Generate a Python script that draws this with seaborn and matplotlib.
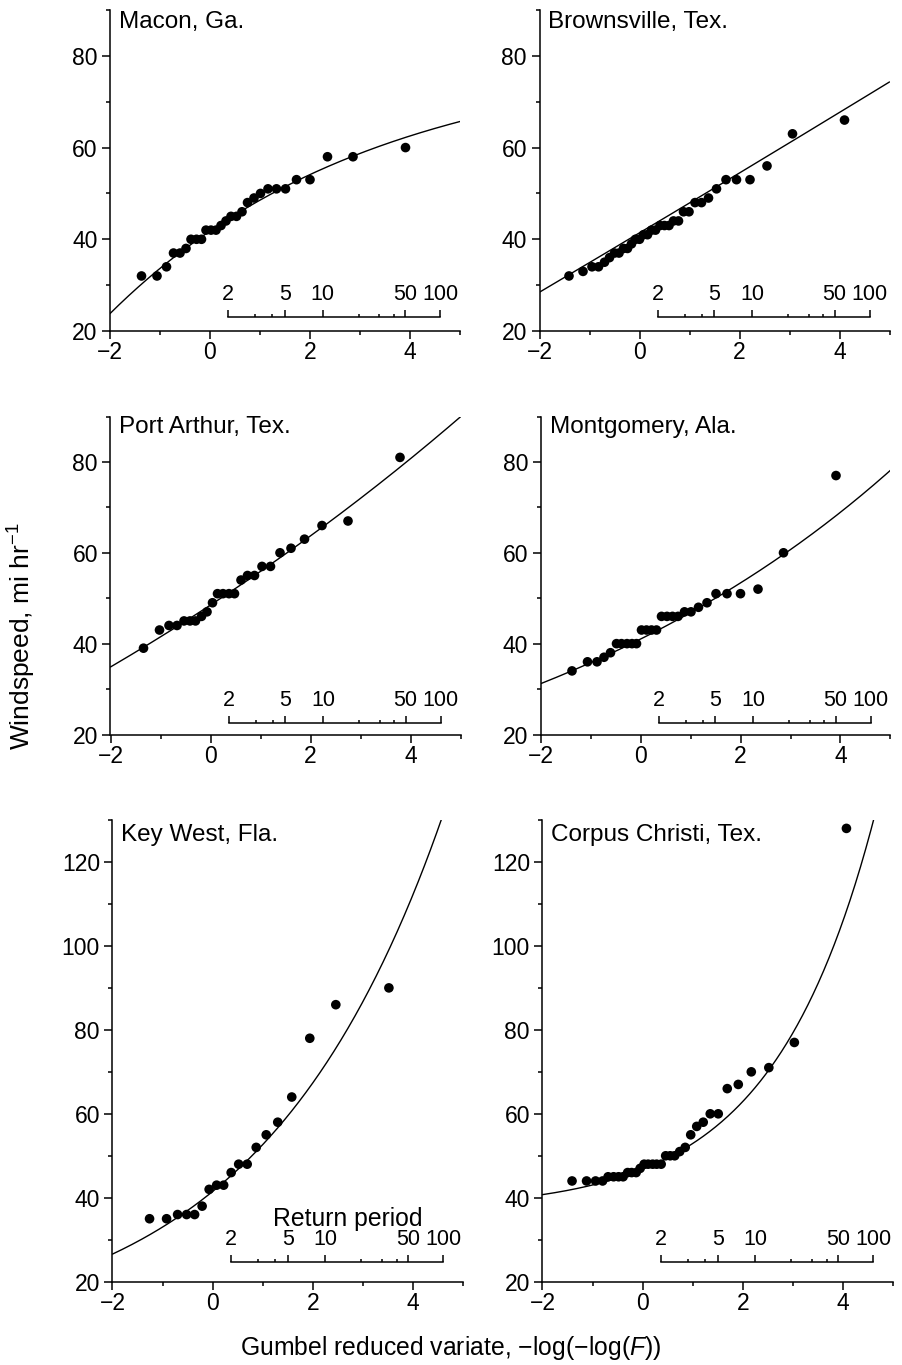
import numpy as np
import pandas as pd
import matplotlib
matplotlib.use("Agg")
import matplotlib.pyplot as plt
import seaborn as sns
from matplotlib.ticker import MultipleLocator
import matplotlib.transforms as mtransforms

# ---------------- data ----------------
sites = ["Macon, Ga.", "Brownsville, Tex.", "Port Arthur, Tex.",
         "Montgomery, Ala.", "Key West, Fla.", "Corpus Christi, Tex."]

macon_x = [-1.37, -1.06, -0.87, -0.73, -0.60, -0.48, -0.38, -0.27, -0.17, -0.08,
           0.02, 0.12, 0.22, 0.32, 0.42, 0.53, 0.64, 0.75, 0.88, 1.01,
           1.16, 1.33, 1.51, 1.73, 2.00, 2.35, 2.86, 3.91]
macon_y = [32, 32, 34, 37, 37, 38, 40, 40, 40, 42, 42, 42, 43, 44, 45, 45, 46, 48,
           49, 50, 51, 51, 51, 53, 53, 58, 58, 60]

brownsville_x = [-1.41, -1.13, -0.95, -0.82, -0.70, -0.60, -0.50, -0.41, -0.32, -0.24,
                 -0.16, -0.08, 0.00, 0.08, 0.16, 0.24, 0.32, 0.41, 0.50, 0.59,
                 0.68, 0.78, 0.88, 0.99, 1.11, 1.24, 1.38, 1.54, 1.73, 1.94,
                 2.21, 2.55, 3.06, 4.10]
brownsville_y = [32, 33, 34, 34, 35, 36, 37, 37, 38, 38, 39, 40, 40, 41, 41, 42, 42,
                 43, 43, 43, 44, 44, 46, 46, 48, 48, 49, 51, 53, 53, 53, 56, 63, 66]

portarthur_x = [-1.34, -1.02, -0.83, -0.67, -0.53, -0.41, -0.30, -0.18, -0.07, 0.04,
                0.14, 0.25, 0.37, 0.48, 0.61, 0.74, 0.88, 1.03, 1.20, 1.39,
                1.61, 1.88, 2.23, 2.75, 3.79]
portarthur_y = [39, 43, 44, 44, 45, 45, 45, 46, 47, 49, 51, 51, 51, 51, 54, 55, 55,
                57, 57, 60, 61, 63, 66, 67, 81]

montgomery_x = [-1.37, -1.06, -0.87, -0.73, -0.60, -0.48, -0.38, -0.27, -0.17, -0.08,
                0.02, 0.12, 0.22, 0.32, 0.42, 0.53, 0.64, 0.75, 0.88, 1.01,
                1.16, 1.33, 1.51, 1.73, 2.00, 2.35, 2.86, 3.91]
montgomery_y = [34, 36, 36, 37, 38, 40, 40, 40, 40, 40, 43, 43, 43, 43, 46, 46, 46,
                46, 47, 47, 48, 49, 51, 51, 51, 52, 60, 77]

keywest_x = [-1.26, -0.92, -0.70, -0.52, -0.36, -0.21, -0.07, 0.08, 0.22, 0.37,
             0.52, 0.69, 0.87, 1.07, 1.30, 1.58, 1.94, 2.46, 3.52]
keywest_y = [35, 35, 36, 36, 36, 38, 42, 43, 43, 46, 48, 48, 52, 55, 58, 64, 78, 86, 90]

corpus_x = [-1.41, -1.12, -0.94, -0.80, -0.69, -0.58, -0.48, -0.39, -0.30, -0.22,
            -0.13, -0.05, 0.03, 0.11, 0.20, 0.28, 0.37, 0.46, 0.55, 0.64,
            0.74, 0.85, 0.96, 1.08, 1.21, 1.35, 1.51, 1.69, 1.91, 2.17,
            2.52, 3.03, 4.07]
corpus_y = [44, 44, 44, 44, 45, 45, 45, 45, 46, 46, 46, 47, 48, 48, 48, 48, 48, 50,
            50, 50, 51, 52, 55, 57, 58, 60, 60, 66, 67, 70, 71, 77, 128]

# fitted GEV curves: location, scale, shape
macon_fit = [41.8, 7.4, -0.19]
brownsville_fit = [41.4, 6.5, 0.005]
portarthur_fit = [48.5, 7.2, 0.055]
montgomery_fit = [41.0, 5.5, 0.115]
keywest_fit = [41.5, 9.7, 0.275]
corpus_fit = [46.8, 4.75, 0.49]

return_periods = [2, 3, 4, 5, 10, 20, 30, 40, 50, 100]
return_labels = ["2", "", "", "5", "10", "", "", "", "50", "100"]

# ---------------- style ----------------
sns.set_theme(style="ticks")
plt.rcParams["font.family"] = ["Liberation Sans", "DejaVu Sans"]
plt.rcParams["mathtext.fontset"] = "custom"
plt.rcParams["mathtext.rm"] = "Liberation Sans"
plt.rcParams["mathtext.it"] = "Liberation Sans:italic"
plt.rcParams["mathtext.bf"] = "Liberation Sans:bold"
plt.rcParams["axes.unicode_minus"] = True

panels = [
    (sites[0], macon_x, macon_y, macon_fit),
    (sites[1], brownsville_x, brownsville_y, brownsville_fit),
    (sites[2], portarthur_x, portarthur_y, portarthur_fit),
    (sites[3], montgomery_x, montgomery_y, montgomery_fit),
    (sites[4], keywest_x, keywest_y, keywest_fit),
    (sites[5], corpus_x, corpus_y, corpus_fit),
]

W, H = 903, 1365
fig = plt.figure(figsize=(W / 100, H / 100), dpi=100)
fig.patch.set_facecolor("white")

# axes boxes in pixels: (left, top, right, bottom)
boxes = [
    (110.0, 10.0, 460.0, 331.0), (539.5, 10.0, 889.5, 331.0),
    (110.5, 416.5, 460.5, 734.5), (540.5, 416.5, 890.5, 734.5),
    (112.5, 820.0, 463.0, 1281.7), (542.5, 820.0, 893.0, 1281.7),
]
ret_frac = [0.043, 0.043, 0.037, 0.037, 0.043, 0.043]
title_off = [18, 18, 16, 16, 21, 21]
ytop = [90, 90, 90, 90, 130, 130]

ret_pos = -np.log(-np.log(1.0 - 1.0 / np.array(return_periods, dtype=float)))
major_idx = [i for i, l in enumerate(return_labels) if l]
minor_idx = [i for i, l in enumerate(return_labels) if not l]

lw = 1.1
for k, (name, xs, ys, fit) in enumerate(panels):
    l, t, r, b = boxes[k]
    ax = fig.add_axes([l / W, 1 - b / H, (r - l) / W, (b - t) / H])
    ax.set_facecolor("white")

    mu, sig, xi = fit
    grid = np.linspace(-2, 5, 400)
    curve = mu + sig * (np.exp(xi * grid) - 1.0) / xi
    sns.lineplot(x=grid, y=curve, ax=ax, color="black", lw=1.0, sort=False)
    df = pd.DataFrame({"x": xs, "y": ys})
    sns.scatterplot(data=df, x="x", y="y", ax=ax, color="black", s=48,
                    edgecolor="none", linewidth=0, zorder=3, legend=False)

    ax.set_xlim(-2, 5)
    ax.set_ylim(20, ytop[k])
    ax.set_xlabel("")
    ax.set_ylabel("")
    sns.despine(ax=ax)
    for s in ["left", "bottom"]:
        ax.spines[s].set_linewidth(lw)
        ax.spines[s].set_color("black")
    ax.xaxis.set_major_locator(MultipleLocator(2))
    ax.xaxis.set_minor_locator(MultipleLocator(1))
    ax.yaxis.set_major_locator(MultipleLocator(20))
    ax.yaxis.set_minor_locator(MultipleLocator(10))
    ax.tick_params(which="major", direction="out", length=5.5, width=lw,
                   labelsize=16.5, colors="black")
    ax.tick_params(which="minor", direction="out", length=3.0, width=lw, colors="black")
    ax.tick_params(axis="y", which="major", pad=3.5)
    ax.tick_params(axis="x", which="major", pad=2)

    ax.annotate(name, xy=(0, 1), xycoords="axes fraction",
                xytext=(9 * 0.72, -title_off[k] * 0.72), textcoords="offset points",
                ha="left", va="baseline", fontsize=17.5, color="black")

    # return-period scale
    sec = ax.secondary_xaxis(ret_frac[k])
    sec.set_alignment("top")
    sec.set_xticks(ret_pos[major_idx], [return_labels[i] for i in major_idx])
    sec.set_xticks(ret_pos[minor_idx], minor=True)
    sec.spines["top"].set_bounds(ret_pos[0], ret_pos[-1])
    sec.spines["top"].set_linewidth(lw)
    sec.spines["top"].set_color("black")
    sec.tick_params(which="major", direction="out", length=5.0, width=lw,
                    labelsize=15.5, pad=3.5, colors="black")
    sec.tick_params(which="minor", direction="out", length=2.5, width=lw, colors="black")
    for lab in sec.get_xticklabels():
        lab.set_fontsize(15.5)

    if k == 4:
        trans = mtransforms.blended_transform_factory(ax.transData, ax.transAxes)
        ax.text(2.7, 0.135, "Return period", transform=trans, ha="center",
                va="center", fontsize=17.8, color="black")

fig.text(451 / W, 1 - 1348 / H, "Gumbel reduced variate, \u2212log(\u2212log($F$))",
         ha="center", va="center", fontsize=17.8, color="black")
fig.text(22 / W, 1 - 636 / H, "Windspeed, mi hr$^{-1}$", rotation=90,
         ha="center", va="center", fontsize=19, color="black")

fig.savefig("out.png", dpi=100, facecolor="white")
